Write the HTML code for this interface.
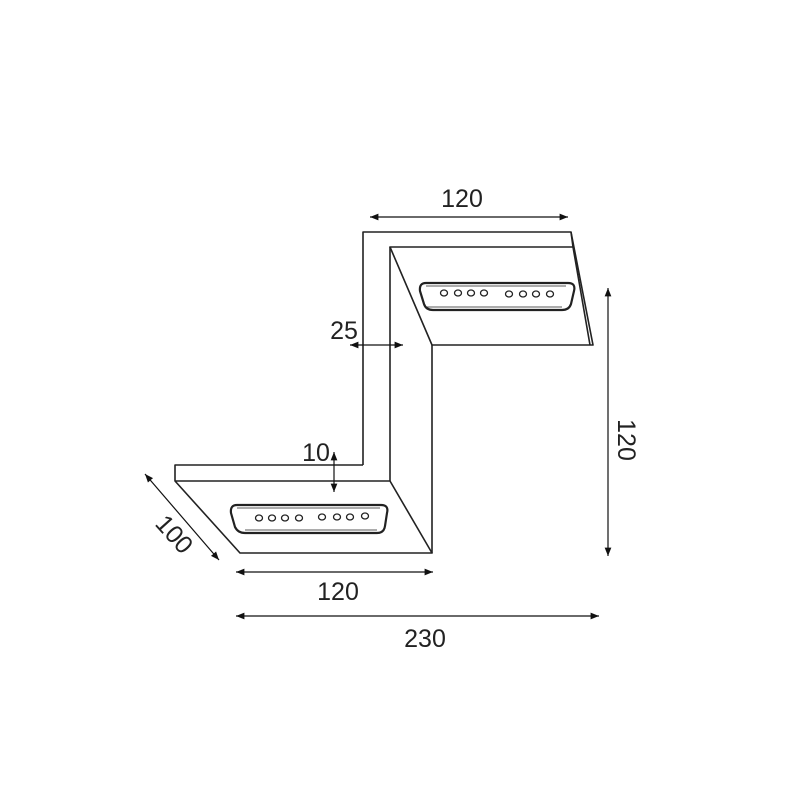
<!DOCTYPE html>
<html><head><meta charset="utf-8"><style>body{margin:0;background:#fff}svg{display:block}</style></head>
<body>
<svg width="800" height="800" viewBox="0 0 800 800" xmlns="http://www.w3.org/2000/svg">
<defs>
<marker id="a" viewBox="0 0 10 10" refX="10" refY="5" markerWidth="7" markerHeight="7" orient="auto-start-reverse"><path d="M0,1 L10,5 L0,9 z" fill="#111"/></marker>
</defs>
<g fill="none" stroke="#222" stroke-width="1.6" stroke-linejoin="round">
<path d="M363,465 L363,232 L571,232 L593,345 L432,345 L390,247 L573,247"/>
<path d="M571,232 L573,247 L590,345"/>
<path d="M390,247 L390,481"/>
<path d="M432,345 L432,553"/>
<path d="M363,465 L175,465 L175,481 L390,481 L432,553 L240,553 L175,481"/>
</g>
<g fill="none" stroke="#222" stroke-width="2.2" stroke-linejoin="round">
<path d="M426,283 L568,283 Q576,283 574,291 L571,304 Q569,310 562,310 L433,310 Q426,310 424,304 L420,291 Q419,283 426,283 Z"/>
<path d="M426,286 L566,286 M426,307 L562,307" stroke-width="0.8"/>
<path d="M237,505 L381,505 Q389,505 387,513 L385,526 Q384,533 377,533 L245,533 Q238,533 235,527 L231,513 Q230,505 237,505 Z"/>
<path d="M237,508 L380,508 M245,530 L377,530" stroke-width="0.8"/>
</g>
<g fill="none" stroke="#222" stroke-width="1.3">
<ellipse cx="444" cy="293" rx="3.5" ry="3"/><ellipse cx="458" cy="293" rx="3.5" ry="3"/><ellipse cx="471" cy="293" rx="3.5" ry="3"/><ellipse cx="484" cy="293" rx="3.5" ry="3"/>
<ellipse cx="509" cy="294" rx="3.5" ry="3"/><ellipse cx="523" cy="294" rx="3.5" ry="3"/><ellipse cx="536" cy="294" rx="3.5" ry="3"/><ellipse cx="550" cy="294" rx="3.5" ry="3"/>
<ellipse cx="259" cy="518" rx="3.5" ry="3"/><ellipse cx="272" cy="518" rx="3.5" ry="3"/><ellipse cx="285" cy="518" rx="3.5" ry="3"/><ellipse cx="299" cy="518" rx="3.5" ry="3"/>
<ellipse cx="322" cy="517" rx="3.5" ry="3"/><ellipse cx="337" cy="517" rx="3.5" ry="3"/><ellipse cx="350" cy="517" rx="3.5" ry="3"/><ellipse cx="365" cy="516" rx="3.5" ry="3"/>
</g>
<g stroke="#111" stroke-width="1.2" marker-start="url(#a)" marker-end="url(#a)">
<line x1="370" y1="217" x2="568" y2="217"/>
<line x1="350" y1="345" x2="403" y2="345"/>
<line x1="334" y1="452" x2="334" y2="492"/>
<line x1="145" y1="474" x2="219" y2="560"/>
<line x1="236" y1="572" x2="433" y2="572"/>
<line x1="236" y1="616" x2="599" y2="616"/>
<line x1="608" y1="288" x2="608" y2="556"/>
</g>
<g font-family="Liberation Sans, sans-serif" font-size="25" fill="#222" text-anchor="middle">
<text x="462" y="207">120</text>
<text x="344" y="339">25</text>
<text x="316" y="461">10</text>
<text x="338" y="600">120</text>
<text x="425" y="647">230</text>
<text transform="translate(618,440) rotate(90)">120</text>
<text transform="translate(168,540) rotate(48)">100</text>
</g>
</svg>
</body></html>
